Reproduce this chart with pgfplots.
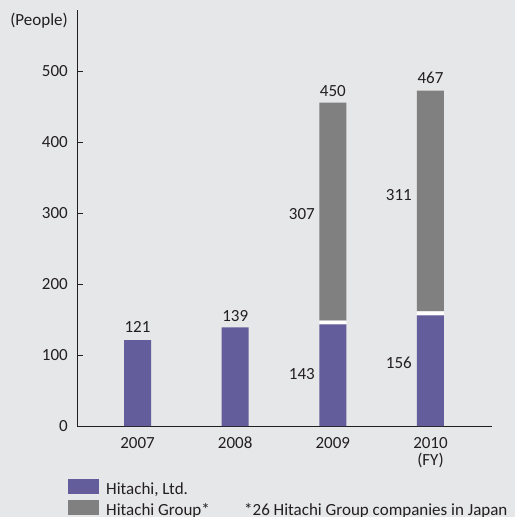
\documentclass[border=0pt]{standalone}
\usepackage{fontspec}
\setmainfont{Carlito}
\usepackage{pgfplots}
\pgfplotsset{compat=1.18}
\definecolor{bg}{HTML}{E6E7E8}
\definecolor{hpurple}{HTML}{645D9C}
\definecolor{hgray}{HTML}{808080}
\definecolor{axisc}{HTML}{231F20}
\newcommand\cf{\fontsize{17bp}{17bp}\selectfont}
\pgfplotsset{mylegend/.style={legend image code/.code={\fill[##1] (0bp,-5bp) rectangle (31bp,10bp);}}}
\begin{document}
\begin{tikzpicture}[font=\cf, text=axisc]
\useasboundingbox (0,0) rectangle (515bp,-517bp);
\fill[bg] (0,0) rectangle (515bp,-517bp);
\begin{axis}[
  at={(77bp,-426bp)}, anchor=south west,
  scale only axis, width=415bp, height=416bp,
  xmin=-0.62, xmax=3.63, ymin=0, ymax=586,
  axis x line*=bottom, axis y line*=left,
  axis line style={axisc, line width=1bp},
  ytick={0,100,200,300,400,500},
  tick align=inside, major tick length=6bp,
  ytick style={axisc, line width=1bp},
  xtick={0,1,2,3},
  xticklabels={2007,2008,2009,{2010\\(FY)}},
  xtick style={draw=none},
  xticklabel style={align=center, anchor=north, inner sep=0pt, yshift=-11bp, font=\cf, text=axisc},
  yticklabel style={anchor=east, inner sep=0pt, xshift=-9bp, font=\cf, text=axisc},
  /pgf/number format/assume math mode=true,
  ybar stacked, bar width=27bp,
  legend style={at={(axis description cs:-0.0217,-0.1274)}, anchor=north west,
    draw=none, fill=none, inner sep=0pt, row sep=4bp, column sep=7bp, font=\cf, text=axisc,
    nodes={inner sep=0pt, text=axisc}},
  legend cell align=left,
  clip=false,
]
\addplot[fill=hpurple, draw=none, mylegend] coordinates {(0,121) (1,139) (2,143) (3,156)};
\addplot[fill=white, draw=none, mylegend] coordinates {(0,0) (1,0) (2,5.5) (3,5.5)};
\addplot[fill=hgray, draw=none, mylegend] coordinates {(0,0) (1,0) (2,307) (3,311)};
\legend{Hitachi{,} Ltd.,{},Hitachi Group*}
\node[anchor=south, inner sep=0pt, yshift=7bp] at (axis cs:0,121) {121};
\node[anchor=south, inner sep=0pt, yshift=6bp] at (axis cs:1,139) {139};
\node[anchor=south, inner sep=0pt, yshift=6bp] at (axis cs:2,455.5) {450};
\node[anchor=south, inner sep=0pt, yshift=6.5bp] at (axis cs:3,472.5) {467};
\node[anchor=east, inner sep=0pt] at (axis cs:1.817,299) {307};
\node[anchor=east, inner sep=0pt] at (axis cs:1.817,73) {143};
\node[anchor=east, inner sep=0pt] at (axis cs:2.81,325) {311};
\node[anchor=east, inner sep=0pt] at (axis cs:2.81,89) {156};
\node[anchor=east, inner sep=0pt, xshift=-9bp, yshift=-10.8bp] at (rel axis cs:0,1) {(People)};
\end{axis}
\node[anchor=base west, inner sep=0pt] at (244bp,-515bp) {*26 Hitachi Group companies in Japan};
\end{tikzpicture}
\end{document}
